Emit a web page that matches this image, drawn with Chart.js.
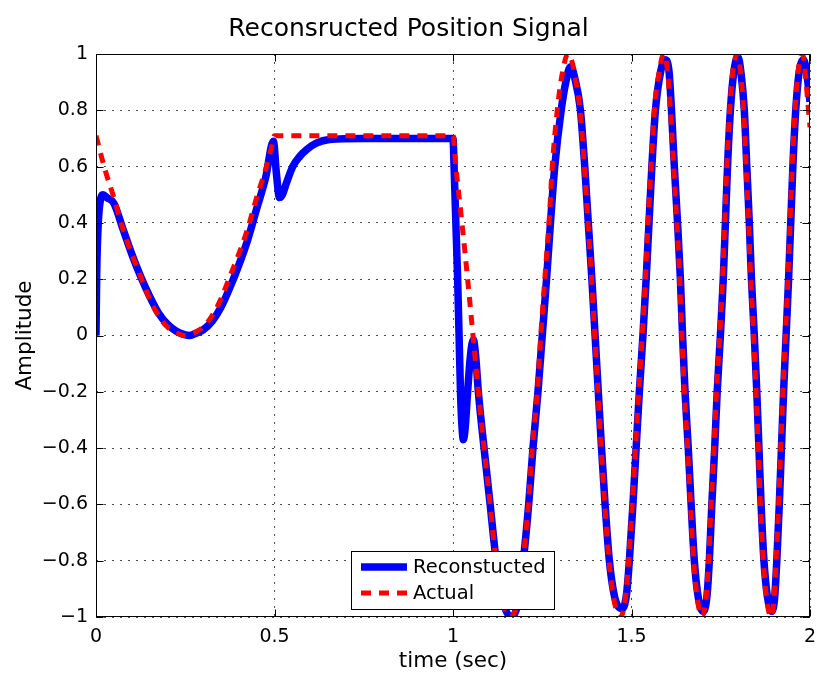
<!DOCTYPE html>
<html>
<head>
<meta charset="utf-8">
<script src="https://cdn.jsdelivr.net/npm/chart.js@4.4.0/dist/chart.umd.min.js"></script>
<style>
  html, body { margin: 0; padding: 0; background: #fff; }
  #grafico { display: block; }
</style>
</head>
<body>
<canvas id="grafico" width="817" height="676"></canvas>
<script>
    // Sinal real (tracejado vermelho): trecho ate 1 s e trecho oscilante depois
    const tempoRealA = [0, 0.025, 0.05, 0.075, 0.1, 0.125, 0.15, 0.175, 0.2, 0.225, 0.25,
        0.275, 0.3, 0.325, 0.35, 0.375, 0.4, 0.425, 0.45, 0.475, 0.49, 0.5, 0.75, 0.99];
    const ampRealA = [0.71, 0.59, 0.49, 0.38, 0.29, 0.21, 0.13, 0.07, 0.03, 0.01, 0.0,
        0.01, 0.03, 0.07, 0.13, 0.21, 0.29, 0.38, 0.49, 0.59, 0.66, 0.71, 0.71, 0.71];

    const tempoRealB = [1.0, 1.008, 1.025, 1.041, 1.056, 1.071, 1.087, 1.104, 1.12, 1.138, 1.16,
        1.18, 1.196, 1.211, 1.222, 1.236, 1.246, 1.257, 1.269, 1.278, 1.292, 1.306, 1.322,
        1.336, 1.347, 1.356, 1.368, 1.378, 1.388, 1.397, 1.406, 1.415, 1.425, 1.437, 1.451, 1.469,
        1.482, 1.492, 1.502, 1.511, 1.52, 1.53, 1.539, 1.546, 1.555, 1.564, 1.578, 1.59,
        1.601, 1.609, 1.618, 1.627, 1.635, 1.641, 1.648, 1.657, 1.665, 1.674, 1.685, 1.698,
        1.708, 1.716, 1.723, 1.731, 1.738, 1.747, 1.755, 1.761, 1.767, 1.775, 1.784, 1.796,
        1.805, 1.814, 1.821, 1.828, 1.834, 1.842, 1.849, 1.855, 1.861, 1.869, 1.879, 1.891,
        1.899, 1.905, 1.912, 1.918, 1.924, 1.931, 1.938, 1.944, 1.95, 1.958, 1.967, 1.979,
        1.987, 1.993, 2.0];
    const ampRealB = [0.71, 0.6, 0.4, 0.2, 0.0, -0.2, -0.4, -0.6, -0.8, -0.94, -1.0,
        -0.95, -0.8, -0.6, -0.4, -0.2, 0.0, 0.2, 0.4, 0.6, 0.8, 0.93, 1.0,
        0.96, 0.88, 0.8, 0.6, 0.4, 0.2, 0.0, -0.2, -0.4, -0.6, -0.8, -0.94, -1.0,
        -0.94, -0.8, -0.6, -0.4, -0.2, 0.0, 0.2, 0.4, 0.6, 0.8, 0.94, 1.0,
        0.94, 0.8, 0.6, 0.4, 0.2, 0.0, -0.2, -0.4, -0.6, -0.8, -0.94, -1.0,
        -0.94, -0.8, -0.6, -0.4, -0.2, 0.0, 0.2, 0.4, 0.6, 0.8, 0.94, 1.0,
        0.94, 0.8, 0.6, 0.4, 0.2, 0.0, -0.2, -0.4, -0.6, -0.8, -0.94, -1.0,
        -0.94, -0.8, -0.6, -0.4, -0.2, 0.0, 0.2, 0.4, 0.6, 0.8, 0.94, 1.0,
        0.93, 0.84, 0.74];

    // Sinal reconstruido (azul)
    const tempoRecA = [0, 0.002, 0.006, 0.011, 0.02, 0.03, 0.05, 0.075, 0.1, 0.125, 0.15,
        0.175, 0.2, 0.225, 0.25, 0.262, 0.275, 0.3, 0.325, 0.35, 0.375, 0.4, 0.425, 0.45,
        0.475, 0.497, 0.505, 0.514, 0.522, 0.533, 0.551, 0.57, 0.59, 0.617, 0.654, 0.75, 0.99];
    const ampRecA = [0, 0.22, 0.39, 0.47, 0.50, 0.49, 0.47, 0.38, 0.29, 0.21, 0.14,
        0.08, 0.04, 0.015, 0.002, 0.0, 0.005, 0.02, 0.05, 0.10, 0.17, 0.25, 0.34, 0.45,
        0.56, 0.69, 0.58, 0.49, 0.50, 0.54, 0.60, 0.635, 0.66, 0.683, 0.696, 0.70, 0.70];

    const tempoRecB = [1.0, 1.003, 1.008, 1.013, 1.017, 1.021, 1.025, 1.029, 1.034, 1.041,
        1.049, 1.057, 1.064, 1.071, 1.087, 1.104, 1.121, 1.139, 1.163,
        1.182, 1.197, 1.212, 1.224, 1.238, 1.25, 1.262, 1.273, 1.285, 1.303, 1.316, 1.329,
        1.342, 1.357, 1.369, 1.379, 1.389, 1.398, 1.407, 1.416, 1.426, 1.438, 1.453, 1.474,
        1.486, 1.494, 1.504, 1.513, 1.522, 1.532, 1.541, 1.549, 1.557, 1.567, 1.582, 1.594,
        1.605, 1.612, 1.62, 1.629, 1.637, 1.643, 1.65, 1.659, 1.667, 1.676, 1.687, 1.701,
        1.711, 1.718, 1.725, 1.733, 1.74, 1.749, 1.757, 1.763, 1.769, 1.777, 1.786, 1.798,
        1.807, 1.816, 1.823, 1.83, 1.836, 1.844, 1.851, 1.857, 1.863, 1.871, 1.881, 1.893,
        1.901, 1.907, 1.914, 1.92, 1.926, 1.933, 1.94, 1.946, 1.952, 1.96, 1.969, 1.982,
        1.991, 2.0];
    const ampRecB = [0.70, 0.6, 0.4, 0.2, 0.0, -0.2, -0.32, -0.37, -0.33, -0.2,
        -0.07, -0.015, -0.08, -0.2, -0.4, -0.6, -0.8, -0.94, -1.0,
        -0.95, -0.8, -0.6, -0.4, -0.2, 0.0, 0.2, 0.4, 0.6, 0.8, 0.9, 0.955,
        0.91, 0.8, 0.6, 0.4, 0.2, 0.0, -0.2, -0.4, -0.6, -0.8, -0.93, -0.97,
        -0.92, -0.8, -0.6, -0.4, -0.2, 0.0, 0.2, 0.4, 0.6, 0.8, 0.94, 0.98,
        0.94, 0.8, 0.6, 0.4, 0.2, 0.0, -0.2, -0.4, -0.6, -0.8, -0.93, -0.98,
        -0.93, -0.8, -0.6, -0.4, -0.2, 0.0, 0.2, 0.4, 0.6, 0.8, 0.93, 0.99,
        0.93, 0.8, 0.6, 0.4, 0.2, 0.0, -0.2, -0.4, -0.6, -0.8, -0.93, -0.98,
        -0.93, -0.8, -0.6, -0.4, -0.2, 0.0, 0.2, 0.4, 0.6, 0.8, 0.93, 0.98,
        0.93, 0.83];

    const fonte = 'DejaVu Sans';

    const pontos = (ts, vs) => ts.map((t, i) => ({ x: t, y: vs[i] }));
    const dadosReal = pontos(tempoRealA.concat(tempoRealB), ampRealA.concat(ampRealB));
    const dadosRec = pontos(tempoRecA.concat(tempoRecB), ampRecA.concat(ampRecB));

    // rotulo com sinal de menos tipografico
    function rotulo(v) {
        const r = Math.round(v * 10) / 10;
        return r < 0 ? '\u2212' + (-r) : String(r);
    }

    /* MOLDURA E MARCAS INTERNAS */
    const moldura = {
        id: 'moldura',
        afterDatasetsDraw(chart) {
            const { ctx, chartArea: a, scales } = chart;
            const L = Math.round(a.left) + 0.5, R = Math.round(a.right) - 0.5;
            const T = Math.round(a.top) + 0.5, B = Math.round(a.bottom) - 0.5;
            const tam = 7;
            ctx.save();
            ctx.strokeStyle = '#000';
            ctx.lineWidth = 1;
            ctx.setLineDash([]);
            ctx.strokeRect(L, T, R - L, B - T);
            ctx.beginPath();
            scales.x.ticks.forEach(t => {
                const px = Math.round(scales.x.getPixelForValue(t.value)) + 0.5;
                ctx.moveTo(px, B); ctx.lineTo(px, B - tam);
                ctx.moveTo(px, T); ctx.lineTo(px, T + tam);
            });
            scales.y.ticks.forEach(t => {
                const py = Math.round(scales.y.getPixelForValue(t.value)) + 0.5;
                ctx.moveTo(L, py); ctx.lineTo(L + tam, py);
                ctx.moveTo(R, py); ctx.lineTo(R - tam, py);
            });
            ctx.stroke();
            ctx.restore();
        }
    };

    /* LEGENDA DENTRO DO GRAFICO */
    const legenda = {
        id: 'legenda',
        afterDraw(chart) {
            const { ctx, chartArea: a } = chart;
            const w = 203, h = 58;
            const x0 = Math.round(a.left) + 255, y0 = Math.round(a.bottom) - 8 - h;
            ctx.save();
            ctx.fillStyle = '#fff';
            ctx.fillRect(x0, y0, w, h);
            ctx.strokeStyle = '#000';
            ctx.lineWidth = 1;
            ctx.strokeRect(x0 + 0.5, y0 + 0.5, w, h);
            chart.data.datasets.forEach((ds, i) => {
                const y = y0 + 16 + i * 26;
                ctx.beginPath();
                ctx.setLineDash(ds.borderDash || []);
                ctx.lineWidth = ds.borderWidth;
                ctx.strokeStyle = ds.borderColor;
                ctx.moveTo(x0 + 10, y);
                ctx.lineTo(x0 + 56, y);
                ctx.stroke();
                ctx.setLineDash([]);
                ctx.fillStyle = '#000';
                ctx.font = '19.5px "' + fonte + '"';
                ctx.textBaseline = 'middle';
                ctx.fillText(ds.label, x0 + 62, y + 1);
            });
            ctx.restore();
        }
    };

    const grade = { color: '#4a4a4a', lineWidth: 1, drawTicks: false };
    const borda = { display: false, dash: [2, 6] };

    const ctx = document.getElementById('grafico');

    let chart = new Chart(ctx, {
        type: 'line',
        data: {
            datasets: [
                {
                    label: 'Reconstucted',
                    data: dadosRec,
                    borderColor: '#0000ff',
                    borderWidth: 7.5,
                    pointRadius: 0,
                    cubicInterpolationMode: 'monotone',
                    borderJoinStyle: 'round',
                    clip: 0,
                    order: 1
                },
                {
                    label: 'Actual',
                    data: dadosReal,
                    borderColor: '#ff0000',
                    borderWidth: 5,
                    borderDash: [10, 8],
                    pointRadius: 0,
                    cubicInterpolationMode: 'monotone',
                    clip: 0,
                    order: 0
                }
            ]
        },
        options: {
            responsive: false,
            maintainAspectRatio: false,
            animation: false,
            devicePixelRatio: 1,
            layout: { padding: 0 },
            plugins: {
                legend: { display: false },
                tooltip: { enabled: false },
                title: {
                    display: true,
                    text: 'Reconsructed Position Signal',
                    color: '#000',
                    font: { family: fonte, size: 25, weight: 'normal' },
                    padding: { top: 14, bottom: 10 }
                }
            },
            scales: {
                x: {
                    type: 'linear',
                    min: 0,
                    max: 2,
                    grid: grade,
                    border: borda,
                    ticks: {
                        stepSize: 0.5,
                        padding: 9,
                        color: '#000',
                        maxRotation: 0,
                        autoSkip: false,
                        font: { family: fonte, size: 19 },
                        callback: rotulo
                    },
                    title: {
                        display: true,
                        text: 'time (sec)',
                        color: '#000',
                        font: { family: fonte, size: 21.5 },
                        padding: { top: 0, bottom: 2 }
                    },
                    afterFit: s => {
                        s.height = 59;
                        s.paddingLeft = 0;
                        s.paddingRight = 7;
                    }
                },
                y: {
                    type: 'linear',
                    min: -1,
                    max: 1,
                    grid: grade,
                    border: borda,
                    ticks: {
                        stepSize: 0.2,
                        padding: 8,
                        color: '#000',
                        autoSkip: false,
                        font: { family: fonte, size: 19 },
                        callback: rotulo
                    },
                    title: {
                        display: true,
                        text: 'Amplitude',
                        color: '#000',
                        font: { family: fonte, size: 21.5 },
                        padding: { top: 13, bottom: 0 }
                    },
                    afterFit: s => { s.width = 96; }
                }
            }
        },
        plugins: [moldura, legenda]
    });
</script>
</body>
</html>
